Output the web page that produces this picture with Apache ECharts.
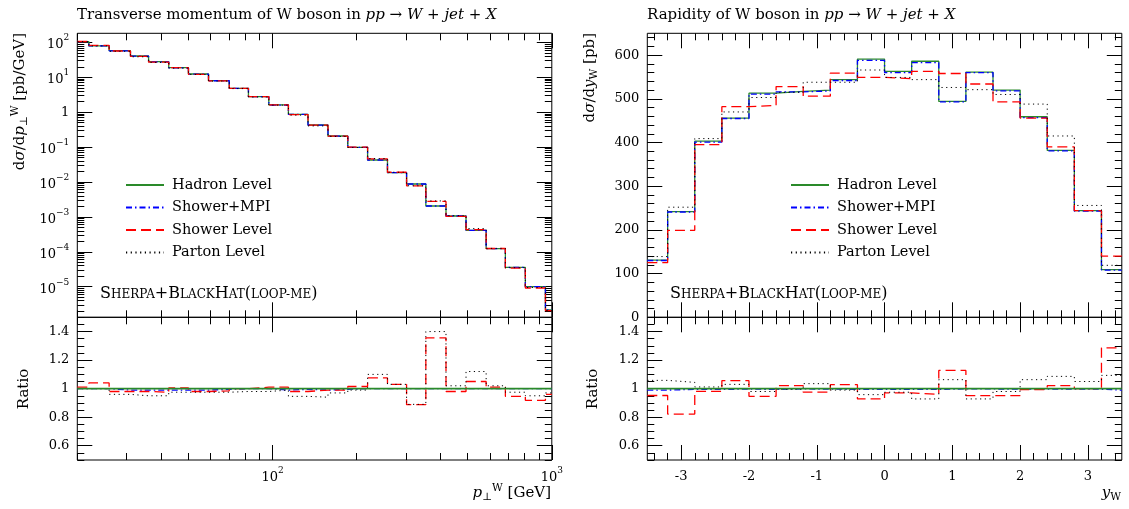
<!DOCTYPE html>
<html>
<head>
<meta charset="utf-8">
<script src="https://cdn.jsdelivr.net/npm/echarts@6/dist/echarts.min.js"></script>
<style>
html, body { margin: 0; padding: 0; background: #fff; }
#chart { width: 1129px; height: 509px; }
</style>
</head>
<body>
<div id="chart"></div>
<script>
// transverse momentum of the W: bin edges [GeV] and hadron level dsigma/dpT [pb/GeV]
const ptEdges = [20, 22, 26, 31, 36, 42.5, 50, 59, 70, 82, 97, 114, 134, 158, 186, 219, 258, 302, 354, 418, 493, 582, 682, 804, 949, 1000]
const ptHadron = [105, 79, 57.8, 40.7, 28, 18.8, 12.4, 8.0, 4.84, 2.78, 1.61, 0.871, 0.43, 0.208, 0.0986, 0.0427, 0.0185, 0.00877, 0.00205, 0.00106, 4.13e-4, 1.23e-4, 3.6e-5, 1.0e-5, 2.15e-6]
// ratios to hadron level
const ptRatioMpi = [1.0, 1.0, 0.99, 0.99, 0.99, 0.99, 0.99, 0.995, 1.0, 1.0, 0.99, 0.995, 0.99, 0.995, 1.0, 1.0, 1.0, 1.0, 1.0, 1.0, 1.0, 1.0, 1.0, 1.0, 1.0]
const ptRatioShower = [1.01, 1.04, 0.98, 0.98, 0.975, 1.005, 0.98, 0.985, 1.0, 1.01, 1.01, 0.98, 0.99, 0.99, 1.015, 1.075, 1.03, 0.888, 1.356, 0.98, 1.05, 1.01, 0.946, 0.918, 0.96]
const ptRatioParton = [1.0, 1.0, 0.96, 0.95, 0.95, 0.975, 0.975, 0.975, 0.98, 0.98, 0.99, 0.946, 0.94, 0.97, 0.99, 1.10, 1.03, 0.89, 1.40, 1.02, 1.12, 1.02, 0.975, 0.95, 0.97]

// rapidity of the W: bin edges and dsigma/dy [pb]
const yEdges = [-3.5, -3.2, -2.8, -2.4, -2.0, -1.6, -1.2, -0.8, -0.4, 0, 0.4, 0.8, 1.2, 1.6, 2.0, 2.4, 2.8, 3.2, 3.5]
const yHadron = [131, 242, 403, 456, 513, 517, 520, 544, 591, 563, 586, 494, 561, 520, 459, 382, 244, 109]
const yMpi = [130, 241, 401, 455, 511, 516, 518, 542, 588, 560, 583, 493, 560, 518, 457, 381, 243, 108]
const yShower = [125, 199, 395, 482, 485, 528, 506, 559, 549, 546, 563, 558, 534, 493, 456, 390, 244, 140]
const yParton = [139, 252, 409, 470, 503, 515, 538, 538, 566, 549, 544, 526, 521, 510, 488, 415, 256, 119]
const yRatioMpi = [0.99, 0.995, 0.995, 0.997, 0.995, 0.998, 0.997, 0.995, 0.995, 0.995, 0.995, 0.998, 0.998, 0.996, 0.996, 0.997, 0.996, 0.99]
const yRatioShower = [0.952, 0.822, 0.981, 1.056, 0.946, 1.021, 0.975, 1.028, 0.928, 0.97, 0.96, 1.128, 0.951, 0.951, 0.993, 1.021, 1.0, 1.286]
const yRatioParton = [1.058, 1.044, 1.012, 1.03, 0.98, 0.995, 1.035, 0.99, 0.958, 0.975, 0.928, 1.063, 0.928, 0.98, 1.063, 1.086, 1.05, 1.093]

const names = ['Hadron Level', 'Shower+MPI', 'Shower Level', 'Parton Level']
const font = 'DejaVu Serif'
const look = {
  'Hadron Level': { color: '#2a8a2a', width: 1.3, type: 'solid' },
  'Shower+MPI': { color: '#0000ff', width: 1.3, type: [6, 3, 1.5, 3] },
  'Shower Level': { color: '#ff0000', width: 1.3, type: [10, 5] },
  'Parton Level': { color: '#000000', width: 1, type: [1.2, 3.5] }
}

// tick positions
const ptMajor = [100, 1000]
const ptMinor = []
const dsMajor = []
const dsMinor = []
for (let e = -6; e <= 2; e++) {
  if (e >= -5) dsMajor.push(Math.pow(10, e))
  for (let m = 2; m <= 9; m++) {
    dsMinor.push(+(m * Math.pow(10, e)).toPrecision(3))
    if (e === 1 || e === 2) ptMinor.push(m * Math.pow(10, e))
  }
}
const ratioMajor = [0.6, 0.8, 1, 1.2, 1.4]
const ratioMinor = []
for (let i = 10; i <= 30; i++) ratioMinor.push(i / 20)
const rapMajor = [-3, -2, -1, 0, 1, 2, 3]
const rapMinor = []
for (let i = -17; i <= 17; i++) rapMinor.push(Math.round(i * 2) / 10)
const xsMajor = [0, 100, 200, 300, 400, 500, 600]
const xsMinor = []
for (let i = 0; i <= 32; i++) xsMinor.push(i * 20)

function powerLabel(v) {
  const e = Math.round(Math.log10(v))
  if (e === 0) return '1'
  return '{b|10}{s|' + (e < 0 ? '−' : '') + Math.abs(e) + '}'
}
const powerRich = {
  b: { fontFamily: font, fontSize: 13, lineHeight: 18, verticalAlign: 'bottom', color: '#000' },
  s: { fontFamily: font, fontSize: 9, lineHeight: 10, verticalAlign: 'top', color: '#000' }
}

function mkAxis(g, type, min, max, pos, ticks, len, label) {
  return {
    type: type, gridIndex: g, min: min, max: max, position: pos,
    axisLine: { show: false, onZero: false },
    splitLine: { show: false },
    axisTick: { show: true, inside: true, length: len, customValues: ticks, lineStyle: { color: '#000', width: 1 } },
    axisLabel: label ? Object.assign({
      show: true, customValues: label.values, fontFamily: font, fontSize: 13, color: '#000', margin: label.margin
    }, label.extra || {}) : { show: false }
  }
}

// major and minor ticks on both sides, first axis carries labels and series
function axisSet(g, type, min, max, sides, major, minor, label) {
  const out = []
  sides.forEach(function (pos, k) {
    out.push(mkAxis(g, type, min, max, pos, major, 15, k === 0 ? label : null))
    out.push(mkAxis(g, type, min, max, pos, minor, 7, null))
  })
  return out
}

const xAxes = [].concat(
  axisSet(0, 'log', 20, 1000, ['bottom', 'top'], ptMajor, ptMinor, null),
  axisSet(1, 'log', 20, 1000, ['bottom', 'top'], ptMajor, ptMinor,
    { values: ptMajor, margin: 6, extra: { formatter: powerLabel, rich: powerRich } }),
  axisSet(2, 'value', -3.5, 3.5, ['bottom', 'top'], rapMajor, rapMinor, null),
  axisSet(3, 'value', -3.5, 3.5, ['bottom', 'top'], rapMajor, rapMinor, { values: rapMajor, margin: 10 })
)
const yAxes = [].concat(
  axisSet(0, 'log', 1.33e-6, 182, ['left', 'right'], dsMajor, dsMinor,
    { values: dsMajor, margin: 8, extra: { formatter: powerLabel, rich: powerRich } }),
  axisSet(1, 'value', 0.5, 1.5, ['left', 'right'], ratioMajor, ratioMinor, { values: ratioMajor, margin: 8 }),
  axisSet(2, 'value', 0, 650, ['left', 'right'], xsMajor, xsMinor, { values: xsMajor, margin: 8 }),
  axisSet(3, 'value', 0.5, 1.5, ['left', 'right'], ratioMajor, ratioMinor, { values: ratioMajor, margin: 8 })
)

function steps(edges, vals) {
  const pts = vals.map(function (v, i) { return [edges[i], v] })
  pts.push([edges[edges.length - 1], vals[vals.length - 1]])
  return pts
}

const ptMain = {
  'Hadron Level': ptHadron,
  'Shower+MPI': ptHadron.map(function (v, i) { return v * ptRatioMpi[i] }),
  'Shower Level': ptHadron.map(function (v, i) { return v * ptRatioShower[i] }),
  'Parton Level': ptHadron.map(function (v, i) { return v * ptRatioParton[i] })
}
const ptRatio = {
  'Hadron Level': ptHadron.map(function () { return 1 }),
  'Shower+MPI': ptRatioMpi, 'Shower Level': ptRatioShower, 'Parton Level': ptRatioParton
}
const yMain = { 'Hadron Level': yHadron, 'Shower+MPI': yMpi, 'Shower Level': yShower, 'Parton Level': yParton }
const yRatio = {
  'Hadron Level': yHadron.map(function () { return 1 }),
  'Shower+MPI': yRatioMpi, 'Shower Level': yRatioShower, 'Parton Level': yRatioParton
}

const series = []
const panels = [[0, ptEdges, ptMain, false], [1, ptEdges, ptRatio, true], [2, yEdges, yMain, false], [3, yEdges, yRatio, true]]
panels.forEach(function (p) {
  names.forEach(function (n, k) {
    // in the ratio panels the reference line sits on top
    const onTop = p[3] && k === 0
    series.push({
      name: n, type: 'line', step: 'end', xAxisIndex: 4 * p[0], yAxisIndex: 4 * p[0],
      data: steps(p[1], p[2][n]),
      symbol: 'none', showSymbol: false, z: onTop ? 9 : 3 + k,
      lineStyle: { color: look[n].color, width: onTop ? 1.6 : look[n].width, type: look[n].type },
      itemStyle: { color: look[n].color },
      emphasis: { disabled: true }
    })
  })
})

function gridAt(left, top, height) {
  return { left: left, top: top, width: 474.5, height: height, show: true, borderColor: '#000', borderWidth: 1, backgroundColor: 'transparent', outerBoundsMode: 'none', containLabel: false }
}

function legendAt(left) {
  return {
    left: left, top: 177.5, padding: 0, orient: 'vertical', itemWidth: 38, itemHeight: 14, itemGap: 7.5,
    selectedMode: false, data: names,
    itemStyle: { opacity: 0, borderWidth: 0 },
    textStyle: { fontFamily: font, fontSize: 14.5, color: '#000', padding: [0, 0, 0, 3] }
  }
}

const txt = { fontFamily: font, fontSize: 15, color: '#000' }
const rich = {
  r: Object.assign({}, txt, { lineHeight: 20, verticalAlign: 'middle' }),
  i: Object.assign({}, txt, { lineHeight: 20, verticalAlign: 'middle', fontStyle: 'italic' }),
  sup: { fontFamily: font, fontSize: 10.5, color: '#000', verticalAlign: 'top', lineHeight: 10 },
  sub: { fontFamily: font, fontSize: 10.5, color: '#000', verticalAlign: 'bottom', lineHeight: 10 }
}

const grey = '#9b9b9b'
const capsRich = {
  C: { fontFamily: font, fontSize: 16, color: grey, lineHeight: 18, verticalAlign: 'bottom' },
  c: { fontFamily: font, fontSize: 12, color: grey, lineHeight: 14, verticalAlign: 'bottom', padding: [0, 0, 1, 0] }
}
const sherpa = '{C|S}{c|HERPA}{C|+B}{c|LACK}{C|H}{c|AT}{C|(}{c|LOOP-ME}{C|)}'

function text(x, y, str, align, extra) {
  return Object.assign({
    type: 'text', x: x, y: y, silent: true,
    style: { text: str, rich: rich, align: align, verticalAlign: 'middle' }
  }, extra || {})
}
const up = { rotation: Math.PI / 2 }

const graphics = [
  text(77, 15, '{r|Transverse momentum of W boson in }{i|pp}{r| → }{i|W}{r| + }{i|jet}{r| + }{i|X}', 'left'),
  text(647, 15, '{r|Rapidity of W boson in }{i|pp}{r| → }{i|W}{r| + }{i|jet}{r| + }{i|X}', 'left'),
  text(20, 33, '{r|d}{i|σ}{r|/d}{i|p}{sub|⊥}{sup|W}{r| [pb/GeV]}', 'right', up),
  text(590, 33, '{r|d}{i|σ}{r|/d}{i|y}{sub|W}{r| [pb]}', 'right', up),
  text(24, 389, '{r|Ratio}', 'center', up),
  text(593, 389, '{r|Ratio}', 'center', up),
  text(551, 493, '{i|p}{sub|⊥}{sup|W}{r| [GeV]}', 'right'),
  text(1121, 493, '{i|y}{sub|W}', 'right'),
  { type: 'text', x: 100, y: 293, silent: true,
    style: { text: sherpa, rich: capsRich, align: 'left', verticalAlign: 'middle' } },
  { type: 'text', x: 670, y: 293, silent: true,
    style: { text: sherpa, rich: capsRich, align: 'left', verticalAlign: 'middle' } }
]

const chart = echarts.init(document.getElementById('chart'), null, { renderer: 'canvas' })
chart.setOption({
  backgroundColor: '#fff',
  animation: false,
  grid: [gridAt(77.3, 33.3, 284), gridAt(77.3, 317.3, 142.7), gridAt(647.3, 33.3, 284), gridAt(647.3, 317.3, 142.7)],
  xAxis: xAxes,
  yAxis: yAxes,
  legend: [legendAt(125), legendAt(790)],
  graphic: graphics,
  series: series
})
</script>
</body>
</html>
